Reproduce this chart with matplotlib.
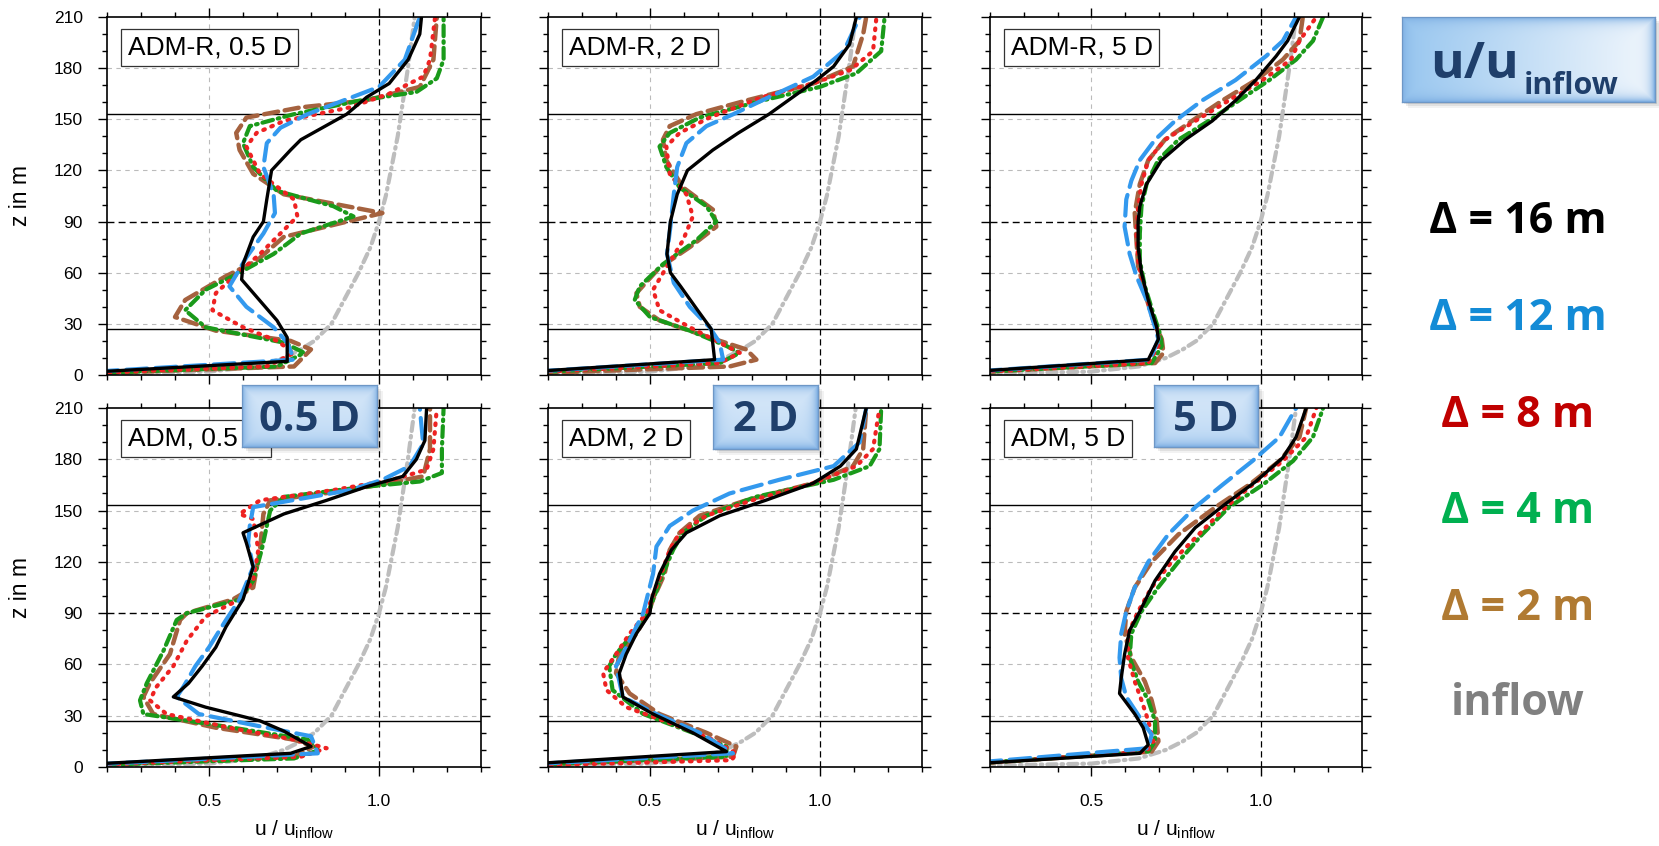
# ===========================================================
# Wake profiles u/u_inflow - ADM-R vs ADM, grid convergence
# ===========================================================
import numpy as np
import matplotlib
matplotlib.use('Agg')
import matplotlib.pyplot as plt
from matplotlib.patches import Rectangle
from matplotlib.ticker import MultipleLocator


# ===========================================================
# Data: z in m, u/u_inflow
# ===========================================================
inflow_z = [0, 2, 5, 10, 15, 20, 30, 45, 60, 75, 90, 105, 120, 140, 160, 180, 195, 210]
inflow_u = [0.0, 0.5, 0.64, 0.72, 0.77, 0.81, 0.86, 0.90, 0.94, 0.975, 1.0, 1.02, 1.035, 1.055, 1.07, 1.085, 1.095, 1.105]

# --- ADM-R, 0.5 D ---
r05_z16 = [0, 8, 22, 32, 56, 65, 81, 90, 103, 120, 132, 138, 153, 163, 171, 185, 200, 210]
r05_u16 = [0.0, 0.73, 0.73, 0.70, 0.596, 0.60, 0.63, 0.66, 0.67, 0.684, 0.74, 0.77, 0.905, 0.964, 1.03, 1.086, 1.12, 1.125]
r05_z12 = [0, 9, 19, 28, 40, 52, 69, 83, 95, 106, 122, 136, 145, 153, 169, 185, 210]
r05_u12 = [0.0, 0.75, 0.73, 0.69, 0.61, 0.56, 0.61, 0.66, 0.694, 0.69, 0.66, 0.67, 0.71, 0.79, 1.0, 1.076, 1.12]
r05_z8 = [0, 5, 13, 20, 28, 38, 48, 60, 71, 83, 93, 103, 118, 134, 142, 149, 157, 165, 175, 185, 210]
r05_u8 = [0.0, 0.67, 0.75, 0.70, 0.60, 0.51, 0.52, 0.586, 0.65, 0.71, 0.76, 0.75, 0.65, 0.61, 0.64, 0.72, 0.915, 1.03, 1.13, 1.15, 1.165]
r05_z4 = [0, 5, 13, 19, 28, 38, 50, 60, 71, 83, 93, 99, 108, 122, 136, 146, 153, 161, 166, 174, 185, 210]
r05_u4 = [0.0, 0.70, 0.78, 0.72, 0.49, 0.43, 0.49, 0.59, 0.69, 0.77, 0.925, 0.866, 0.70, 0.63, 0.60, 0.62, 0.75, 0.944, 1.11, 1.17, 1.19, 1.19]
r05_z2 = [0, 5, 15, 20, 26, 34, 44, 58, 67, 81, 95, 106, 118, 132, 142, 151, 157, 161, 169, 185, 210]
r05_u2 = [0.0, 0.75, 0.80, 0.74, 0.52, 0.40, 0.43, 0.55, 0.64, 0.72, 1.01, 0.72, 0.63, 0.59, 0.58, 0.61, 0.77, 0.96, 1.12, 1.16, 1.17]

# --- ADM-R, 2 D ---
r2_z16 = [0, 9, 27, 38, 52, 60, 71, 90, 106, 120, 132, 142, 153, 163, 173, 181, 194, 210]
r2_u16 = [0.0, 0.69, 0.68, 0.64, 0.59, 0.56, 0.55, 0.56, 0.58, 0.61, 0.685, 0.76, 0.85, 0.92, 0.99, 1.04, 1.087, 1.107]
r2_z12 = [0, 9, 19, 28, 40, 54, 71, 87, 106, 122, 136, 146, 153, 163, 175, 190, 210]
r2_u12 = [0.0, 0.715, 0.705, 0.675, 0.617, 0.57, 0.55, 0.56, 0.57, 0.58, 0.607, 0.666, 0.745, 0.85, 0.98, 1.07, 1.117]
r2_z8 = [0, 7, 13, 19, 28, 38, 50, 63, 79, 93, 106, 118, 134, 142, 151, 163, 171, 179, 190, 210]
r2_u8 = [0.0, 0.705, 0.764, 0.705, 0.617, 0.528, 0.509, 0.548, 0.597, 0.626, 0.607, 0.558, 0.548, 0.587, 0.675, 0.83, 0.98, 1.09, 1.156, 1.166]
r2_z4 = [0, 7, 13, 17, 26, 34, 44, 52, 65, 79, 90, 99, 110, 122, 134, 142, 151, 161, 169, 177, 190, 210]
r2_u4 = [0.0, 0.705, 0.764, 0.725, 0.617, 0.50, 0.455, 0.47, 0.538, 0.636, 0.695, 0.666, 0.587, 0.548, 0.528, 0.558, 0.646, 0.83, 1.0, 1.107, 1.18, 1.19]
r2_z2 = [0, 5, 9, 15, 22, 32, 40, 48, 63, 75, 87, 97, 110, 126, 138, 146, 153, 161, 171, 181, 200, 210]
r2_u2 = [0.0, 0.734, 0.813, 0.783, 0.675, 0.528, 0.47, 0.46, 0.528, 0.617, 0.695, 0.685, 0.597, 0.548, 0.538, 0.558, 0.636, 0.783, 0.98, 1.097, 1.127, 1.136]

# --- ADM-R, 5 D ---
r5_z16 = [0, 9, 15, 21, 28, 44, 60, 75, 90, 99, 112, 126, 138, 149, 161, 173, 187, 196, 210]
r5_u16 = [0.0, 0.668, 0.683, 0.698, 0.693, 0.668, 0.648, 0.638, 0.638, 0.643, 0.663, 0.707, 0.777, 0.857, 0.926, 0.986, 1.046, 1.08, 1.115]
r5_z12 = [0, 9, 21, 28, 44, 58, 71, 87, 103, 114, 126, 138, 149, 161, 173, 187, 196, 210]
r5_u12 = [0.0, 0.673, 0.698, 0.688, 0.663, 0.633, 0.613, 0.598, 0.603, 0.618, 0.643, 0.688, 0.747, 0.827, 0.926, 1.016, 1.066, 1.105]
r5_z8 = [0, 7, 17, 24, 36, 52, 67, 83, 99, 112, 126, 138, 149, 161, 173, 185, 196, 210]
r5_u8 = [0.0, 0.668, 0.698, 0.698, 0.678, 0.653, 0.638, 0.633, 0.638, 0.648, 0.668, 0.717, 0.807, 0.906, 1.006, 1.09, 1.115, 1.165]
r5_z4 = [0, 7, 17, 24, 36, 52, 67, 83, 99, 112, 126, 138, 149, 161, 173, 185, 196, 210]
r5_u4 = [0.0, 0.678, 0.708, 0.703, 0.683, 0.658, 0.643, 0.643, 0.648, 0.663, 0.697, 0.757, 0.846, 0.936, 1.026, 1.105, 1.155, 1.185]
r5_z2 = [0, 7, 13, 21, 32, 48, 64, 79, 95, 112, 126, 138, 149, 161, 173, 185, 196, 210]
r5_u2 = [0.0, 0.688, 0.713, 0.708, 0.683, 0.658, 0.638, 0.633, 0.628, 0.643, 0.668, 0.717, 0.797, 0.887, 0.986, 1.066, 1.115, 1.125]

# --- ADM, 0.5 D ---
a05_z16 = [0, 8, 12, 21, 27, 35, 41, 49, 59, 70, 82, 98, 117, 131, 137, 148, 156, 164, 170, 180, 191, 210]
a05_u16 = [0.0, 0.74, 0.80, 0.72, 0.65, 0.49, 0.395, 0.44, 0.48, 0.52, 0.55, 0.60, 0.63, 0.61, 0.60, 0.72, 0.846, 0.964, 1.07, 1.11, 1.135, 1.14]
a05_z12 = [0, 8, 18, 23, 31, 41, 47, 59, 70, 86, 98, 117, 131, 141, 152, 162, 168, 176, 189, 210]
a05_u12 = [0.0, 0.82, 0.80, 0.67, 0.47, 0.405, 0.425, 0.46, 0.50, 0.55, 0.59, 0.63, 0.615, 0.62, 0.63, 0.915, 1.01, 1.09, 1.13, 1.12]
a05_z8 = [0, 6, 11, 16, 23, 31, 39, 47, 59, 74, 88, 98, 109, 127, 145, 148, 156, 162, 168, 174, 186, 210]
a05_u8 = [0.0, 0.77, 0.846, 0.75, 0.56, 0.375, 0.326, 0.346, 0.395, 0.435, 0.49, 0.59, 0.63, 0.645, 0.63, 0.59, 0.65, 0.866, 1.04, 1.14, 1.16, 1.17]
a05_z4 = [0, 5, 10, 16, 23, 31, 39, 49, 68, 86, 90, 98, 109, 127, 141, 150, 158, 164, 167, 172, 186, 210]
a05_u4 = [0.0, 0.75, 0.826, 0.79, 0.57, 0.307, 0.297, 0.317, 0.366, 0.405, 0.435, 0.59, 0.63, 0.655, 0.67, 0.68, 0.72, 0.964, 1.12, 1.185, 1.185, 1.19]
a05_z2 = [0, 6, 12, 16, 23, 31, 41, 49, 66, 86, 90, 98, 105, 127, 148, 156, 162, 170, 186, 210]
a05_u2 = [0.0, 0.75, 0.807, 0.75, 0.52, 0.336, 0.307, 0.326, 0.385, 0.415, 0.435, 0.57, 0.63, 0.65, 0.66, 0.68, 0.915, 1.13, 1.15, 1.15]

# --- ADM, 2 D ---
a2_z16 = [0, 9, 20, 31, 41, 55, 66, 78, 90, 98, 113, 127, 137, 147, 156, 166, 176, 186, 210]
a2_u16 = [0.0, 0.725, 0.626, 0.509, 0.42, 0.41, 0.43, 0.46, 0.50, 0.504, 0.528, 0.563, 0.607, 0.705, 0.84, 0.98, 1.06, 1.107, 1.136]
a2_z12 = [0, 8, 20, 31, 41, 59, 66, 78, 90, 98, 113, 129, 141, 150, 160, 168, 176, 190, 210]
a2_u12 = [0.0, 0.744, 0.646, 0.519, 0.42, 0.40, 0.42, 0.45, 0.48, 0.49, 0.509, 0.519, 0.558, 0.626, 0.734, 0.88, 1.04, 1.117, 1.136]
a2_z8 = [0, 4, 8, 16, 25, 35, 45, 55, 66, 78, 90, 98, 113, 127, 137, 147, 156, 166, 176, 186, 210]
a2_u8 = [0.0, 0.74, 0.754, 0.685, 0.568, 0.43, 0.372, 0.362, 0.40, 0.44, 0.49, 0.504, 0.533, 0.558, 0.587, 0.666, 0.80, 0.98, 1.107, 1.156, 1.175]
a2_z4 = [0, 6, 12, 20, 31, 45, 59, 66, 78, 90, 98, 113, 127, 137, 147, 158, 168, 176, 186, 210]
a2_u4 = [0.0, 0.725, 0.725, 0.626, 0.48, 0.39, 0.38, 0.40, 0.45, 0.495, 0.509, 0.538, 0.568, 0.597, 0.666, 0.81, 1.04, 1.146, 1.175, 1.18]
a2_z2 = [0, 6, 12, 20, 31, 43, 55, 66, 78, 90, 98, 113, 127, 137, 147, 156, 166, 176, 186, 210]
a2_u2 = [0.0, 0.744, 0.754, 0.666, 0.528, 0.44, 0.40, 0.41, 0.46, 0.495, 0.509, 0.543, 0.558, 0.587, 0.646, 0.783, 0.98, 1.097, 1.127, 1.136]

# --- ADM, 5 D ---
a5_z16 = [0, 8, 13, 23, 31, 43, 52, 66, 80, 91, 109, 126, 140, 154, 167, 181, 193, 210]
a5_u16 = [0.0, 0.643, 0.668, 0.653, 0.628, 0.583, 0.588, 0.598, 0.613, 0.643, 0.688, 0.747, 0.807, 0.897, 0.986, 1.066, 1.105, 1.135]
a5_z12 = [0, 11, 19, 29, 41, 52, 64, 78, 91, 105, 120, 136, 152, 165, 179, 193, 210]
a5_u12 = [0.0, 0.668, 0.678, 0.643, 0.603, 0.588, 0.583, 0.588, 0.603, 0.628, 0.668, 0.727, 0.807, 0.887, 0.976, 1.056, 1.105]
a5_z8 = [0, 9, 15, 27, 39, 50, 64, 78, 91, 105, 120, 136, 152, 165, 179, 193, 210]
a5_u8 = [0.0, 0.663, 0.683, 0.668, 0.648, 0.628, 0.608, 0.608, 0.638, 0.678, 0.737, 0.817, 0.897, 0.976, 1.066, 1.135, 1.165]
a5_z4 = [0, 9, 15, 27, 39, 50, 64, 78, 91, 105, 120, 136, 152, 165, 179, 193, 210]
a5_u4 = [0.0, 0.668, 0.688, 0.688, 0.668, 0.638, 0.613, 0.618, 0.648, 0.697, 0.757, 0.827, 0.907, 1.006, 1.096, 1.155, 1.185]
a5_z2 = [0, 9, 15, 27, 39, 50, 64, 78, 91, 105, 120, 136, 152, 165, 179, 193, 210]
a5_u2 = [0.0, 0.678, 0.698, 0.693, 0.678, 0.658, 0.618, 0.598, 0.603, 0.628, 0.678, 0.757, 0.867, 0.966, 1.056, 1.115, 1.135]

panel_titles = ['ADM-R, 0.5 D', 'ADM-R, 2 D', 'ADM-R, 5 D', 'ADM, 0.5 D', 'ADM, 2 D', 'ADM, 5 D']
distance_labels = ['0.5 D', '2 D', '5 D']
legend_labels = ['Δ = 16 m', 'Δ = 12 m', 'Δ = 8 m', 'Δ = 4 m', 'Δ = 2 m', 'inflow']

# turbine geometry (hub height and rotor radius, m)
hub_height = 90
rotor_radius = 63


# ===========================================================
# Styles
# ===========================================================
plt.rcParams['font.family'] = ['Liberation Sans', 'DejaVu Sans']
plt.rcParams['mathtext.fontset'] = 'custom'
plt.rcParams['mathtext.rm'] = 'Liberation Sans'
plt.rcParams['mathtext.it'] = 'Liberation Sans:italic'
plt.rcParams['mathtext.bf'] = 'Liberation Sans:bold'

# line style per resolution: color, width, dash pattern
line_styles = {
    16: dict(color='#000000', lw=2.4, dashes=None),
    12: dict(color='#3399EE', lw=3.0, dashes=(5.0, 2.0)),
    8: dict(color='#EE2222', lw=3.0, dashes=(0.4, 1.7)),
    4: dict(color='#1A9A1A', lw=3.0, dashes=(2.6, 1.2, 0.4, 1.2)),
    2: dict(color='#A5623F', lw=3.2, dashes=(3.2, 1.5)),
}
inflow_style = dict(color='#BDBDBD', lw=3.0, dashes=(2.2, 1.2, 0.4, 1.2))
legend_colors = ['#000000', '#138BD6', '#C00000', '#00B050', '#B07A32', '#808080']
badge_text_color = '#1F3F6B'

W, H = 1659, 846
fig = plt.figure(figsize=(W / 100, H / 100), dpi=100)


def px_rect(x0, y0, x1, y1):
    # pixel box (y from the top) -> figure fraction rect
    return [x0 / W, 1 - y1 / H, (x1 - x0) / W, (y1 - y0) / H]


def draw_line(ax, u, z, st):
    kw = dict(color=st['color'], lw=st['lw'], solid_capstyle='round', solid_joinstyle='round')
    if st['dashes'] is not None:
        kw['dashes'] = st['dashes']
        kw['dash_capstyle'] = 'round'
    ax.plot(u, z, **kw)


# ===========================================================
# Panels
# ===========================================================
panel_data = [
    [(r05_u16, r05_z16), (r05_u12, r05_z12), (r05_u8, r05_z8), (r05_u4, r05_z4), (r05_u2, r05_z2)],
    [(r2_u16, r2_z16), (r2_u12, r2_z12), (r2_u8, r2_z8), (r2_u4, r2_z4), (r2_u2, r2_z2)],
    [(r5_u16, r5_z16), (r5_u12, r5_z12), (r5_u8, r5_z8), (r5_u4, r5_z4), (r5_u2, r5_z2)],
    [(a05_u16, a05_z16), (a05_u12, a05_z12), (a05_u8, a05_z8), (a05_u4, a05_z4), (a05_u2, a05_z2)],
    [(a2_u16, a2_z16), (a2_u12, a2_z12), (a2_u8, a2_z8), (a2_u4, a2_z4), (a2_u2, a2_z2)],
    [(a5_u16, a5_z16), (a5_u12, a5_z12), (a5_u8, a5_z8), (a5_u4, a5_z4), (a5_u2, a5_z2)],
]
resolutions = [16, 12, 8, 4, 2]

col_x = [(107, 481), (548, 922), (990, 1362)]
row_y = [(17, 375), (408, 767)]

for i, series in enumerate(panel_data):
    row, col = divmod(i, 3)
    ax = fig.add_axes(px_rect(col_x[col][0], row_y[row][0], col_x[col][1], row_y[row][1]))

    # grid and turbine reference lines
    for zg in [30, 60, 120, 150, 180]:
        ax.axhline(zg, color='#BBBBBB', lw=0.8, dashes=(4, 4), zorder=1)
    ax.axvline(0.5, color='#BBBBBB', lw=0.8, dashes=(4, 4), zorder=1)
    ax.axvline(1.0, color='black', lw=0.9, dashes=(5, 3), zorder=1)
    ax.axhline(hub_height, color='black', lw=1.0, dashes=(5, 3), zorder=1)
    ax.axhline(hub_height - rotor_radius, color='black', lw=1.0, zorder=1)
    ax.axhline(hub_height + rotor_radius, color='black', lw=1.0, zorder=1)

    # profiles: inflow first, finest grid next, coarsest on top
    draw_line(ax, inflow_u, inflow_z, inflow_style)
    for (u, z), res in reversed(list(zip(series, resolutions))):
        draw_line(ax, u, z, line_styles[res])

    ax.set_xlim(0.2, 1.3)
    ax.set_ylim(0, 210)
    ax.xaxis.set_major_locator(MultipleLocator(0.5))
    ax.xaxis.set_minor_locator(MultipleLocator(0.1))
    ax.yaxis.set_major_locator(MultipleLocator(30))
    ax.yaxis.set_minor_locator(MultipleLocator(10))
    ax.tick_params(which='both', direction='out', top=True, right=True, width=1.0)
    ax.tick_params(which='major', length=6.5, labelsize=12.5)
    ax.tick_params(which='minor', length=3.6)
    ax.tick_params(axis='y', pad=11)
    ax.tick_params(axis='x', pad=13)
    for sp in ax.spines.values():
        sp.set_linewidth(1.2)

    if row == 0:
        ax.tick_params(labelbottom=False)
    else:
        ax.set_xlabel(r'u / u$_{\mathrm{inflow}}$', fontsize=15)
        ax.xaxis.set_label_coords(0.5, -0.145)
    if col == 0:
        ax.set_ylabel('z in m', fontsize=16.5)
        ax.yaxis.set_label_coords(-0.2, 0.5)
    else:
        ax.tick_params(labelleft=False)

    ax.text(0.056, 0.915, panel_titles[i], transform=ax.transAxes, fontsize=19,
            ha='left', va='center', zorder=10,
            bbox=dict(boxstyle='square,pad=0.25', fc='white', ec='#333333', lw=0.9))


# ===========================================================
# Bevelled blue boxes (distance badges and title box)
# ===========================================================
def blue_box(x0, y0, x1, y1, fade_right=False):
    # soft drop shadow
    for k, a in enumerate([0.10, 0.07, 0.05]):
        off = 2 + 2 * k
        fig.add_artist(Rectangle(((x0 + off) / W, 1 - (y1 + off) / H), (x1 - x0) / W, (y1 - y0) / H,
                                 transform=fig.transFigure, fc='black', ec='none', alpha=a, zorder=3))
    bax = fig.add_axes(px_rect(x0, y0, x1, y1))
    bax.set_zorder(4)
    w, h = int(x1 - x0), int(y1 - y0)
    yy, xx = np.mgrid[0:h, 0:w]
    d = np.minimum.reduce([xx, w - 1 - xx, yy, h - 1 - yy]).astype(float)
    edge = np.exp(-d / 5.0)[..., None]
    if fade_right:
        t = (xx / w)[..., None]
        base = np.array([0.60, 0.78, 0.94]) * (1 - t) + np.array([0.95, 0.97, 0.99]) * t
    else:
        t = (yy / h)[..., None]
        base = np.array([0.86, 0.92, 0.98]) * (1 - t) + np.array([0.74, 0.85, 0.96]) * t
    edge_col = np.array([0.50, 0.69, 0.89])
    img = base * (1 - edge) + edge_col * edge
    bax.imshow(img, extent=[0, 1, 0, 1], aspect='auto', interpolation='bilinear')
    bax.set_xticks([])
    bax.set_yticks([])
    for sp in bax.spines.values():
        sp.set_color('#6E97C6')
        sp.set_linewidth(0.9)
    return bax


badge_boxes = [(242, 385, 377, 447), (713, 385, 818, 449), (1154, 385, 1258, 447)]
bold_font = ['Open Sans', 'DejaVu Sans']
for (x0, y0, x1, y1), lab in zip(badge_boxes, distance_labels):
    blue_box(x0, y0, x1, y1)
    fig.text((x0 + x1) / 2 / W, 1 - 431 / H, lab, ha='center', va='baseline', fontsize=30,
             fontweight='bold', color=badge_text_color, family=bold_font, zorder=5)

# title box u/u_inflow
blue_box(1402, 17, 1655, 102, fade_right=True)
t_main = fig.text(1430 / W, 1 - 78 / H, 'u/u', ha='left', va='baseline', fontsize=37,
                  fontweight='bold', color=badge_text_color, family=bold_font, zorder=5)
fig.text(1524 / W, 1 - 94 / H, 'inflow', ha='left', va='baseline', fontsize=22,
         fontweight='bold', color=badge_text_color, family=bold_font, zorder=5)

# ===========================================================
# Legend (coloured text)
# ===========================================================
legend_baselines = [233, 330, 427, 523, 620, 715]
for lab, colr, yb in zip(legend_labels, legend_colors, legend_baselines):
    fig.text(1518 / W, 1 - yb / H, lab, ha='center', va='baseline', fontsize=31,
             fontweight='bold', color=colr, family=bold_font)

fig.savefig('out.png', dpi=100)
